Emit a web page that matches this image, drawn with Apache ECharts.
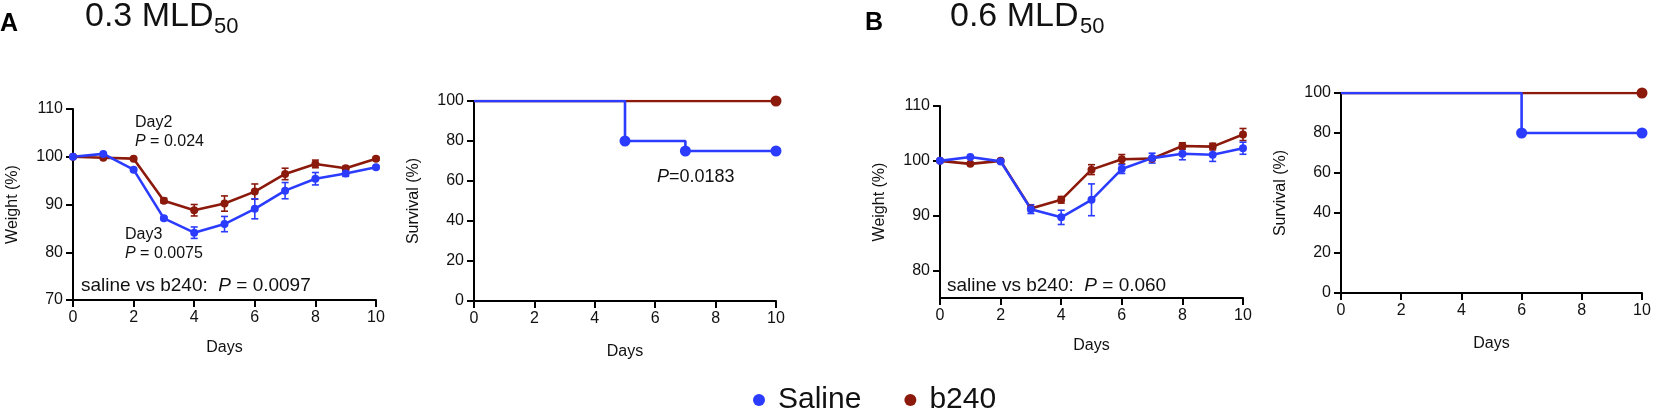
<!DOCTYPE html>
<html>
<head>
<meta charset="utf-8">
<script src="https://cdn.jsdelivr.net/npm/echarts@6/dist/echarts.min.js"></script>
<style>
html,body{margin:0;padding:0;background:#fff;}
#chart{width:1654px;height:408px;}
</style>
</head>
<body>
<div id="chart"></div>
<script>
// ---------- data ----------
const days = [0, 1, 2, 3, 4, 5, 6, 7, 8, 9, 10];

// Panel A (0.3 MLD50) weight
const salineWeightA = [100, 100.6, 97.3, 87.1, 84.1, 85.9, 89.1, 92.9, 95.4, 96.5, 97.8];
const salineErrA    = [0, 0, 0.3, 0.3, 1.2, 1.6, 2.1, 1.7, 1.3, 0.6, 0.3];
const b240WeightA   = [100, 99.8, 99.6, 90.8, 88.8, 90.2, 92.7, 96.4, 98.5, 97.6, 99.6];
const b240ErrA      = [0, 0, 0, 0.5, 1.2, 1.6, 1.6, 1.2, 0.8, 0.4, 0.3];

// Panel B (0.6 MLD50) weight
const salineWeightB = [100, 100.7, 99.9, 91.2, 89.7, 92.9, 98.5, 100.5, 101.3, 101.1, 102.3];
const salineErrB    = [0, 0, 0.3, 0.8, 1.3, 2.9, 0.8, 0.9, 1.1, 1.2, 1.1];
const b240WeightB   = [100, 99.45, 100, 91.3, 92.9, 98.4, 100.3, 100.4, 102.7, 102.6, 104.8];
const b240ErrB      = [0, 0, 0, 0, 0.6, 0.9, 0.85, 0, 0.6, 0.6, 1.1];

// Survival (Kaplan-Meier steps)
const salineSurvDaysA = [0, 5, 7, 10];
const salineSurvA     = [100, 80, 75, 75];
const b240SurvDaysA   = [0, 10];
const b240SurvA       = [100, 100];
const salineSurvDaysB = [0, 6, 10];
const salineSurvB     = [100, 80, 80];
const b240SurvDaysB   = [0, 10];
const b240SurvB       = [100, 100];

const weightTicksB = [80, 90, 100, 110];
const seriesNames = ['Saline', 'b240'];

// ---------- styling ----------
const FONT = "'Liberation Sans', Arial, Helvetica, sans-serif";
const BLUE = '#2b3cff';
const RED = '#8b1a0c';
const INK = '#111';

function pairs(xs, ys) { return xs.map((x, i) => [x, ys[i]]); }
function errData(xs, ys, es) { return xs.map((x, i) => [x, ys[i], es[i]]); }

function xAxisCfg(gi, nameGap) {
  return {
    type: 'value', gridIndex: gi, min: 0, max: 10, interval: 2,
    name: 'Days', nameLocation: 'middle', nameGap: nameGap,
    nameTextStyle: { fontSize: 16, color: INK, fontFamily: FONT },
    axisLine: { show: true, onZero: false, lineStyle: { color: '#000', width: 2 } },
    axisTick: { show: true, length: 7, lineStyle: { color: '#000', width: 2 } },
    axisLabel: { fontSize: 16, color: INK, fontFamily: FONT, margin: 10 },
    splitLine: { show: false }
  };
}
function yAxisCfg(gi, name, min, max, interval, nameGap, custom) {
  const cfg = {
    type: 'value', gridIndex: gi, min: min, max: max, interval: interval,
    name: name, nameLocation: 'middle', nameGap: nameGap,
    nameTextStyle: { fontSize: 16, color: INK, fontFamily: FONT },
    axisLine: { show: true, onZero: false, lineStyle: { color: '#000', width: 2 } },
    axisTick: { show: true, length: 7, lineStyle: { color: '#000', width: 2 } },
    axisLabel: { fontSize: 16, color: INK, fontFamily: FONT, margin: 10 },
    splitLine: { show: false }
  };
  if (custom) {
    cfg.axisLabel.customValues = custom;
    cfg.axisTick.customValues = custom;
  }
  return cfg;
}

function errRender(color) {
  return function (params, api) {
    const x = api.value(0), y = api.value(1), e = api.value(2);
    if (!e) return null;
    const hi = api.coord([x, y + e]);
    const lo = api.coord([x, y - e]);
    const w = 3.5;
    const st = { stroke: color, lineWidth: 1.6 };
    return {
      type: 'group',
      children: [
        { type: 'line', shape: { x1: hi[0], y1: hi[1], x2: lo[0], y2: lo[1] }, style: st },
        { type: 'line', shape: { x1: hi[0] - w, y1: hi[1], x2: hi[0] + w, y2: hi[1] }, style: st },
        { type: 'line', shape: { x1: lo[0] - w, y1: lo[1], x2: lo[0] + w, y2: lo[1] }, style: st }
      ]
    };
  };
}

function weightLine(name, color, gi, ys) {
  return {
    name: name, type: 'line', xAxisIndex: gi, yAxisIndex: gi,
    data: pairs(days, ys), symbol: 'circle', symbolSize: 8, showAllSymbol: true,
    lineStyle: { color: color, width: 2.6 }, itemStyle: { color: color },
    z: 3, silent: true
  };
}
function errSeries(name, color, gi, ys, es) {
  return {
    name: name, type: 'custom', xAxisIndex: gi, yAxisIndex: gi,
    data: errData(days, ys, es), renderItem: errRender(color),
    itemStyle: { color: color },
    encode: { x: 0, y: 1 }, z: 2, silent: true
  };
}
function survLine(name, color, gi, xs, ys) {
  return {
    name: name, type: 'line', xAxisIndex: gi, yAxisIndex: gi, step: 'end',
    data: pairs(xs, ys), symbol: 'circle',
    symbolSize: function (v, p) { return p.dataIndex === 0 ? 0 : 11; },
    showAllSymbol: true,
    lineStyle: { color: color, width: 2.6 }, itemStyle: { color: color },
    z: 3, silent: true
  };
}

function txt(x, y, text, size, opts) {
  opts = opts || {};
  return {
    type: 'text', x: x, y: y, silent: true,
    style: Object.assign({
      text: text, fontSize: size, fontFamily: FONT, fill: INK,
      align: 'left', verticalAlign: 'middle'
    }, opts)
  };
}
function pText(x, y, before, after, size) {
  return {
    type: 'text', x: x, y: y, silent: true,
    style: {
      text: '{n|' + before + '}{i|P}{n|' + after + '}',
      fontSize: size, fontFamily: FONT, fill: INK, align: 'left', verticalAlign: 'middle',
      rich: {
        n: { fontSize: size, fontFamily: FONT, fill: INK },
        i: { fontSize: size, fontFamily: FONT, fill: INK, fontStyle: 'italic' }
      }
    }
  };
}

const option = {
  backgroundColor: '#fff',
  animation: false,
  textStyle: { fontFamily: FONT },
  legend: {
    data: [
      { name: seriesNames[0], itemStyle: { color: BLUE } },
      { name: seriesNames[1], itemStyle: { color: RED } }
    ],
    left: 748, top: 380,
    icon: 'circle', itemWidth: 12, itemHeight: 12, itemGap: 43,
    selectedMode: false,
    textStyle: { fontSize: 30, color: INK, fontFamily: FONT, lineHeight: 30, padding: [0, 0, 0, 8] }
  },
  grid: [
    { left: 73, top: 109, width: 303, height: 191 },
    { left: 474, top: 101, width: 302, height: 200 },
    { left: 940, top: 106, width: 303, height: 192 },
    { left: 1341, top: 93, width: 301, height: 200 }
  ],
  xAxis: [xAxisCfg(0, 40), xAxisCfg(1, 43), xAxisCfg(2, 40), xAxisCfg(3, 43)],
  yAxis: [
    yAxisCfg(0, 'Weight (%)', 70, 110, 10, 52),
    yAxisCfg(1, 'Survival (%)', 0, 100, 20, 52),
    yAxisCfg(2, 'Weight (%)', 75, 110, 5, 52, weightTicksB),
    yAxisCfg(3, 'Survival (%)', 0, 100, 20, 52)
  ],
  series: [
    errSeries('b240', RED, 0, b240WeightA, b240ErrA),
    errSeries('Saline', BLUE, 0, salineWeightA, salineErrA),
    weightLine('b240', RED, 0, b240WeightA),
    weightLine('Saline', BLUE, 0, salineWeightA),

    survLine('b240', RED, 1, b240SurvDaysA, b240SurvA),
    survLine('Saline', BLUE, 1, salineSurvDaysA, salineSurvA),

    errSeries('b240', RED, 2, b240WeightB, b240ErrB),
    errSeries('Saline', BLUE, 2, salineWeightB, salineErrB),
    weightLine('b240', RED, 2, b240WeightB),
    weightLine('Saline', BLUE, 2, salineWeightB),

    survLine('b240', RED, 3, b240SurvDaysB, b240SurvB),
    survLine('Saline', BLUE, 3, salineSurvDaysB, salineSurvB)
  ],
  graphic: [
    txt(0, 24, 'A', 25, { fontWeight: 'bold', fill: '#000' }),
    txt(85, 17, '0.3 MLD', 34),
    txt(214, 27, '50', 22),
    txt(865, 23, 'B', 25, { fontWeight: 'bold', fill: '#000' }),
    txt(950, 17, '0.6 MLD', 34),
    txt(1080, 27, '50', 22),

    txt(135, 123, 'Day2', 16),
    pText(135, 142, '', ' = 0.024', 16),
    txt(125, 235, 'Day3', 16),
    pText(125, 254, '', ' = 0.0075', 16),
    pText(81, 286, 'saline vs b240:  ', ' = 0.0097', 19),
    pText(657, 177, '', '=0.0183', 18),
    pText(947, 286, 'saline vs b240:  ', ' = 0.060', 19)
  ]
};

const chart = echarts.init(document.getElementById('chart'), null, { renderer: 'canvas' });
chart.setOption(option);
</script>
</body>
</html>
